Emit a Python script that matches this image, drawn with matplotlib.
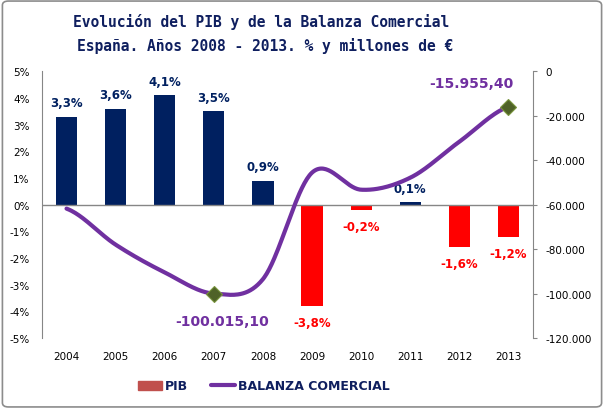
import numpy as np
import matplotlib.pyplot as plt
from matplotlib.patches import Patch, FancyBboxPatch
from matplotlib.lines import Line2D
from matplotlib.ticker import FuncFormatter, MultipleLocator

# Datos
anios = ['2004', '2005', '2006', '2007', '2008', '2009', '2010', '2011', '2012', '2013']
pib = [3.3, 3.6, 4.1, 3.5, 0.9, -3.8, -0.2, 0.1, -1.6, -1.2]
balanza = [-61800, -78000, -90500, -100015.10, -93500, -45600, -53300, -47900, -31700, -15955.40]
pib_etiquetas = ['3,3%', '3,6%', '4,1%', '3,5%', '0,9%', '-3,8%', '-0,2%', '0,1%', '-1,6%', '-1,2%']

azul = '#002060'
rojo = '#FF0000'
morado = '#7030A0'
verde = '#4F6228'
gris = '#868686'


def suavizar(y, n=40):
    # curva suavizada tipo Excel (Catmull-Rom) que pasa por los puntos
    y = np.asarray(y, dtype=float)
    x = np.arange(len(y), dtype=float)
    p = np.concatenate([[y[0]], y, [y[-1]]])
    xs, ys = [], []
    for i in range(len(y) - 1):
        p0, p1, p2, p3 = p[i], p[i + 1], p[i + 2], p[i + 3]
        t = np.linspace(0, 1, n)
        c1 = p1 + (p2 - p0) / 6
        c2 = p2 - (p3 - p1) / 6
        yy = (1 - t) ** 3 * p1 + 3 * (1 - t) ** 2 * t * c1 + 3 * (1 - t) * t ** 2 * c2 + t ** 3 * p2
        xs.append(x[i] + t)
        ys.append(yy)
    return np.concatenate(xs), np.concatenate(ys)


fig = plt.figure(figsize=(6.04, 4.10), dpi=100)
ax = fig.add_axes([0.0695, 0.173, 0.813, 0.651])
ax2 = ax.twinx()

x = np.arange(len(anios))
colores = [azul if v >= 0 else rojo for v in pib]
ax.bar(x, pib, width=0.43, color=colores, zorder=2)
ax.axhline(0, color=gris, lw=1, zorder=3)

for xi, v, et in zip(x, pib, pib_etiquetas):
    off = 10 if v >= 0 else -12
    ax.annotate(et, (xi, v), xytext=(0, off), textcoords='offset points',
                ha='center', va='center', fontsize=8.5, fontweight='bold',
                color=azul if v >= 0 else rojo)

ax.set_xlim(-0.5, len(anios) - 0.5)
ax.set_ylim(-5, 5)
ax.yaxis.set_major_locator(MultipleLocator(1))
ax.yaxis.set_major_formatter(FuncFormatter(lambda v, p: f'{v:.0f}%'))
ax.set_xticks(x)
ax.set_xticklabels(anios)
ax.tick_params(axis='x', length=0, pad=9, labelsize=7.5)
ax.tick_params(axis='y', length=0, pad=9, labelsize=7.5)
for s in ['top', 'right', 'bottom']:
    ax.spines[s].set_visible(False)
ax.spines['left'].set_color(gris)

xs, ys = suavizar(balanza)
ax2.plot(xs, ys, color=morado, lw=3, solid_capstyle='round', zorder=4)
for i in [3, 9]:
    ax2.plot(x[i], balanza[i], marker='D', markersize=8, color=verde,
             markeredgecolor='#77933C', markeredgewidth=0.8, zorder=5)
ax2.annotate('-100.015,10', (x[3], balanza[3]), xytext=(6, -20), textcoords='offset points',
             ha='center', va='center', fontsize=10, fontweight='bold', color=morado)
ax2.annotate('-15.955,40', (x[9], balanza[9]), xytext=(-27, 17), textcoords='offset points',
             ha='center', va='center', fontsize=10, fontweight='bold', color=morado)

ax2.set_ylim(-120000, 0)
ax2.yaxis.set_major_locator(MultipleLocator(20000))
ax2.yaxis.set_major_formatter(FuncFormatter(lambda v, p: f'{v:,.0f}'.replace(',', '.')))
ax2.tick_params(axis='y', length=3, pad=6, labelsize=7.5, color=gris)
for s in ['top', 'left', 'bottom']:
    ax2.spines[s].set_visible(False)
ax2.spines['right'].set_color(gris)

# Titulo
fig.text(261 / 604, 1 - 22 / 410, 'Evolución del PIB y de la Balanza Comercial',
         ha='center', va='center', family='DejaVu Sans Mono', fontweight='bold',
         fontsize=10.5, color='#0F1F5F')
fig.text(265 / 604, 1 - 46 / 410, 'España. Años 2008 - 2013. % y millones de €',
         ha='center', va='center', family='DejaVu Sans Mono', fontweight='bold',
         fontsize=10.5, color='#0F1F5F')

# Leyenda
handles = [Patch(color='#C0504D'), Line2D([0], [0], color=morado, lw=3, solid_capstyle='round')]
leg = fig.legend(handles, ['PIB', 'BALANZA COMERCIAL'], loc='center',
                 bbox_to_anchor=(264 / 604, 1 - 387 / 410), ncol=2, frameon=False,
                 prop={'weight': 'bold', 'size': 9}, handlelength=1.9, handletextpad=0.3,
                 columnspacing=1.8)
for t in leg.get_texts():
    t.set_color('#0F1F5F')

# Borde de la figura
fig.patches.append(FancyBboxPatch((0.004, 0.005), 0.992, 0.99, boxstyle='round,pad=0,rounding_size=0.01',
                                  transform=fig.transFigure, fill=False, edgecolor='#8C8C8C', lw=1.2))

fig.savefig('out.png', dpi=100)
